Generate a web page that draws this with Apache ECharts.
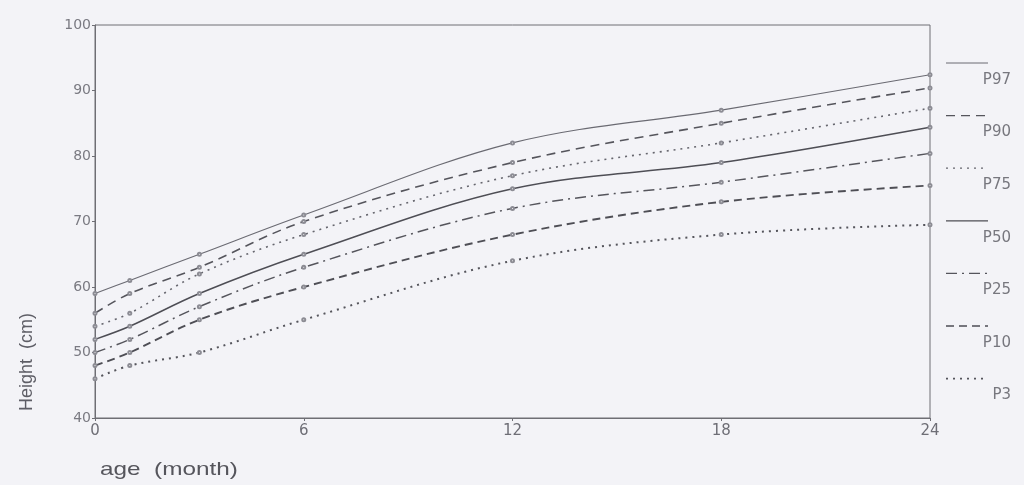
<!DOCTYPE html>
<html>
<head>
<meta charset="utf-8">
<title>Height percentiles 0-24 months</title>
<script src="https://cdn.jsdelivr.net/npm/echarts@6/dist/echarts.min.js"></script>
<style>
  html, body { margin: 0; padding: 0; background: #f3f3f7; }
  #chart { width: 1024px; height: 485px; }
</style>
</head>
<body>
<div id="chart"></div>
<script>
// Age in months at which each percentile was measured
const ages = [0, 1, 3, 6, 12, 18, 24];

// Height (cm) per percentile curve
const p97 = [59, 61, 65, 71, 82, 87, 92.4];
const p90 = [56, 59, 63, 70, 79, 85, 90.4];
const p75 = [54, 56, 62, 68, 77, 82, 87.3];
const p50 = [52, 54, 59, 65, 75, 79, 84.4];
const p25 = [50, 52, 57, 63, 72, 76, 80.4];
const p10 = [48, 50, 55, 60, 68, 73, 75.5];
const p3  = [46, 48, 50, 55, 64, 68, 69.5];

const seriesNames = ['P97', 'P90', 'P75', 'P50', 'P25', 'P10', 'P3'];
const seriesValues = [p97, p90, p75, p50, p25, p10, p3];

const xTicks = { min: 0, max: 24, interval: 6 };
const yTicks = { min: 40, max: 100, interval: 10 };

// Stroke style for each curve (solid, dashed, dotted, dash-dot)
const styles = [
  { type: 'solid', width: 1.1, color: '#6a6a72' },
  { type: [9, 6], width: 1.6, color: '#55555c' },
  { type: [2, 5], width: 1.6, color: '#66666e' },
  { type: 'solid', width: 1.5, color: '#4e4e55' },
  { type: [11, 5, 2, 5], width: 1.5, color: '#55555c' },
  { type: [8, 5], width: 1.9, color: '#4e4e55' },
  { type: [2, 5], width: 2.0, color: '#55555c' }
];

const FONT = '"Liberation Sans", Arial, sans-serif';
const TICK_FONT = '"DejaVu Sans", Verdana, sans-serif';
const chart = echarts.init(document.getElementById('chart'), null, { renderer: 'canvas' });

const series = seriesNames.map((name, i) => ({
  name: name,
  type: 'line',
  smooth: 0.35,
  data: ages.map((a, j) => [a, seriesValues[i][j]]),
  symbol: 'emptyCircle',
  symbolSize: 3,
  showSymbol: true,
  itemStyle: { color: '#8c8c94', borderColor: '#8c8c94', borderWidth: 0.8 },
  lineStyle: { type: styles[i].type, width: styles[i].width, color: styles[i].color },
  silent: true,
  animation: false
}));

// Legend on the right: a line sample above each label
const legendGraphics = [];
const legendTop = 63, legendStep = 52.6;
seriesNames.forEach((name, i) => {
  const y = legendTop + i * legendStep;
  legendGraphics.push({
    type: 'line',
    shape: { x1: 946, y1: y, x2: 988, y2: y },
    style: { stroke: styles[i].color, lineWidth: Math.max(1, styles[i].width - 0.3), lineDash: styles[i].type === 'solid' ? null : styles[i].type }
  });
  legendGraphics.push({
    type: 'text',
    x: 1011, y: y + 17,
    style: { text: name, fill: '#77777e', font: '15px ' + TICK_FONT, textAlign: 'right', textVerticalAlign: 'middle' }
  });
});

const option = {
  backgroundColor: '#f3f3f7',
  animation: false,
  grid: {
    left: 95, right: 94, top: 25, bottom: 67,
    show: true, borderColor: '#6e6e74', borderWidth: 1, backgroundColor: 'transparent'
  },
  xAxis: {
    type: 'value',
    min: xTicks.min, max: xTicks.max, interval: xTicks.interval,
    axisLine: { show: true, lineStyle: { color: '#6e6e74', width: 1 } },
    axisTick: { show: true, length: 3, lineStyle: { color: '#6e6e74' } },
    axisLabel: { color: '#6e6e76', fontSize: 15, fontFamily: TICK_FONT, margin: 6 },
    splitLine: { show: false }
  },
  yAxis: {
    type: 'value',
    min: yTicks.min, max: yTicks.max, interval: yTicks.interval,
    axisLine: { show: true, lineStyle: { color: '#6e6e74', width: 1 } },
    axisTick: { show: true, length: 3, lineStyle: { color: '#6e6e74' } },
    axisLabel: { color: '#7a7a82', fontSize: 14, fontFamily: TICK_FONT, margin: 4 },
    splitLine: { show: false }
  },
  series: series,
  graphic: legendGraphics.concat([
    {
      type: 'text',
      x: 27, y: 362, rotation: Math.PI / 2,
      style: { text: 'Height  (cm)', fill: '#5e5e66', font: '18px ' + FONT, textAlign: 'center', textVerticalAlign: 'middle' }
    },
    {
      type: 'text',
      x: 100, y: 470, scaleX: 1.28, originX: 0,
      style: { text: 'age  (month)', fill: '#55555c', font: '19px ' + FONT, textAlign: 'left', textVerticalAlign: 'middle' }
    }
  ])
};

chart.setOption(option);
</script>
</body>
</html>
